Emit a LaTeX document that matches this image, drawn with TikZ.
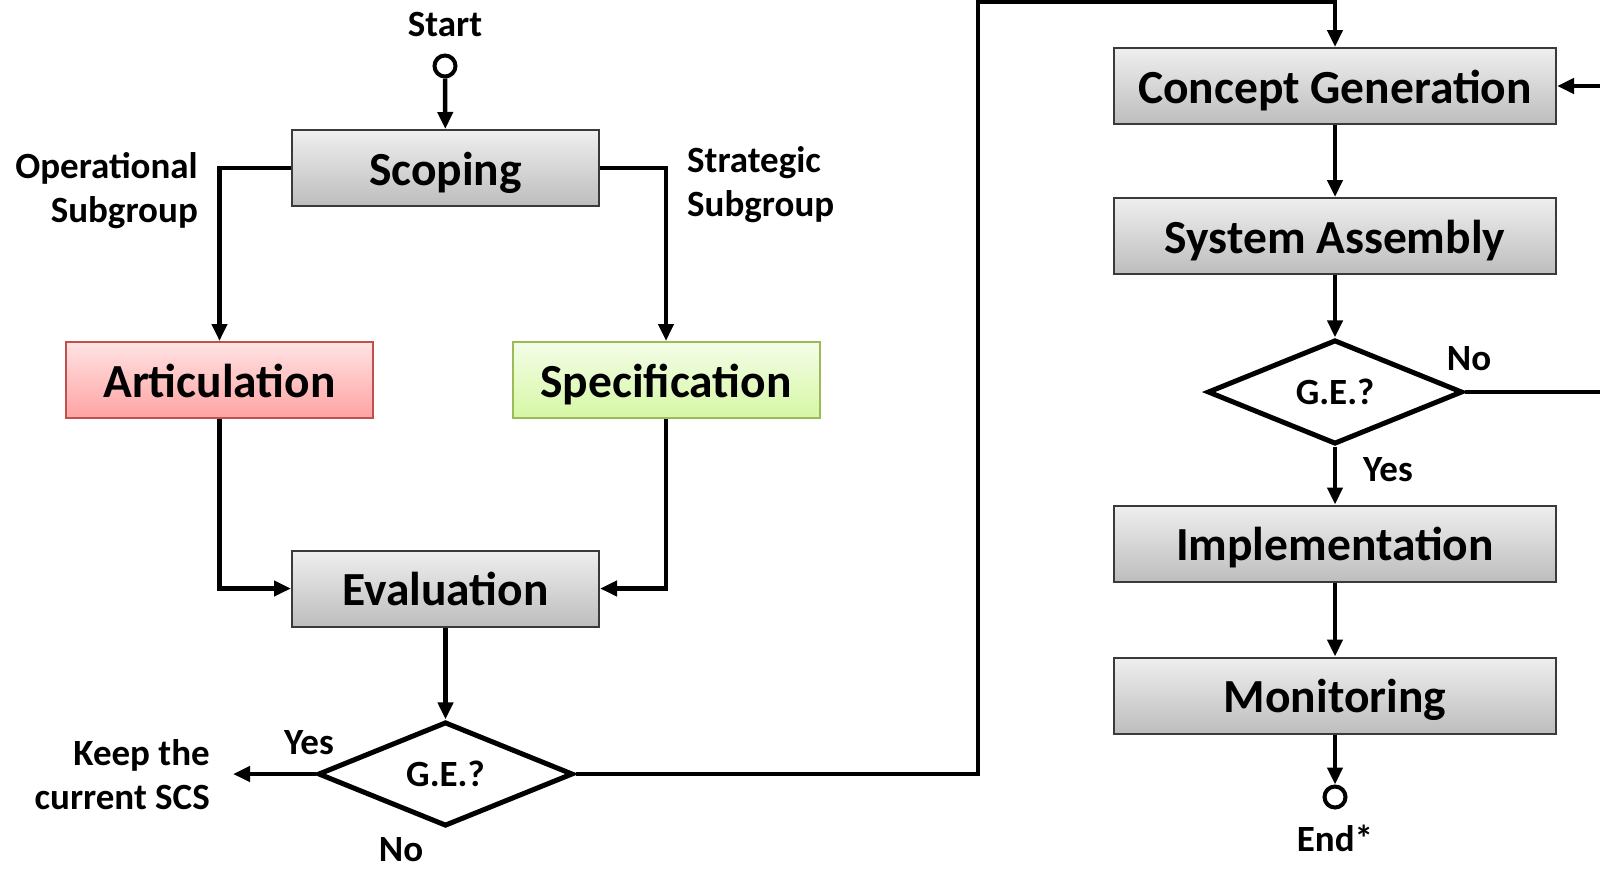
\documentclass[tikz,border=0pt]{standalone}
\usepackage{fontspec}
\setmainfont{Carlito}
\usetikzlibrary{arrows.meta,shapes.geometric}

\definecolor{boxtop}{HTML}{EFEFEF}
\definecolor{boxbot}{HTML}{BDBDBD}
\definecolor{boxline}{HTML}{3A3A3A}
\definecolor{redtop}{HTML}{FFE3E3}
\definecolor{redbot}{HTML}{FFA3A3}
\definecolor{redline}{HTML}{C0504D}
\definecolor{greentop}{HTML}{F4FDE8}
\definecolor{greenbot}{HTML}{D6F7A4}
\definecolor{greenline}{HTML}{9BBB59}

\tikzset{
  stagebox/.style={rectangle, draw=boxline, line width=2pt, top color=boxtop, bottom color=boxbot,
    minimum width=307pt, minimum height=76pt, inner sep=0pt,
    font=\fontsize{47.5}{50}\selectfont\bfseries, text height=40pt, text depth=6pt},
  widebox/.style={stagebox, minimum width=442pt},
  redbox/.style={stagebox, draw=redline, top color=redtop, bottom color=redbot},
  greenbox/.style={stagebox, draw=greenline, top color=greentop, bottom color=greenbot},
  decision/.style={diamond, draw=black, line width=5pt, fill=white, minimum width=255pt,
    minimum height=96pt, inner sep=0pt, font=\fontsize{37}{44}\selectfont\bfseries},
  terminal/.style={circle, draw=black, line width=4pt, fill=white, minimum size=21pt, inner sep=0pt},
  lbl/.style={font=\fontsize{37}{44}\selectfont\bfseries, inner sep=0pt},
  flow/.style={line width=4.5pt, -{Triangle[length=17pt,width=15pt]}},
  link/.style={line width=4.5pt},
}

\begin{document}
\begin{tikzpicture}[x=1pt,y=-1pt]
\useasboundingbox (0,0) rectangle (1600,868);

% left half: scoping and evaluation
\node[lbl] (startlbl) at (445,25) {Start};
\node[terminal] (start) at (445,66) {};
\node[stagebox] (scope) at (445.5,168) {Scoping};
\node[redbox] (artic) at (219.5,380) {Articulation};
\node[greenbox] (spec) at (666,380) {Specification};
\node[stagebox] (eval) at (445.5,588.5) {Evaluation};
\node[decision] (ge1) at (445.5,774) {G.E.?};

\node[lbl, anchor=east, align=right] (opsub) at (198,191) {Operational\\Subgroup};
\node[lbl, anchor=west, align=left] (stratsub) at (687,185) {Strategic\\Subgroup};
\node[lbl, anchor=east, align=right] (keep) at (210,775) {Keep the\\current SCS};
\node[lbl] (yes1) at (309,743) {Yes};
\node[lbl] (no1) at (401,850) {No};

\coordinate (keepend) at (233,774);
\coordinate (upturn) at (978,774);
\coordinate (topturn) at (978,2);

% right half: generation to monitoring
\node[widebox] (cgen) at (1335,86) {Concept Generation};
\node[widebox] (sasm) at (1335,236) {System Assembly};
\node[decision] (ge2) at (1335,392) {G.E.?};
\node[widebox] (impl) at (1335,543.5) {Implementation};
\node[widebox] (moni) at (1335,695.5) {Monitoring};
\node[terminal] (finish) at (1335,797) {};
\node[lbl] (endlbl) at (1335,838) {End*};
\node[lbl] (no2) at (1469,359) {No};
\node[lbl] (yes2) at (1388,470) {Yes};

\coordinate (loopout) at (1600,392);
\coordinate (loopin) at (1600,86);

% connectors
\draw[flow] (start) -- (scope);
\draw[flow] (scope.west) -| (artic.north);
\draw[flow] (scope.east) -| (spec.north);
\draw[flow] (artic.south) |- (eval.west);
\draw[flow] (spec.south) |- (eval.east);
\draw[flow] (eval) -- (ge1);
\draw[flow] (ge1.west) -- (keepend);
\draw[flow] (ge1.east) -- (upturn) -- (topturn) -| (cgen.north);

\draw[flow] (cgen) -- (sasm);
\draw[flow] (sasm) -- (ge2);
\draw[flow] (ge2) -- (impl);
\draw[flow] (impl) -- (moni);
\draw[flow] (moni) -- (finish);
\draw[link] (ge2.east) -- (loopout);
\draw[flow] (loopin) -- (cgen.east);
\end{tikzpicture}
\end{document}
